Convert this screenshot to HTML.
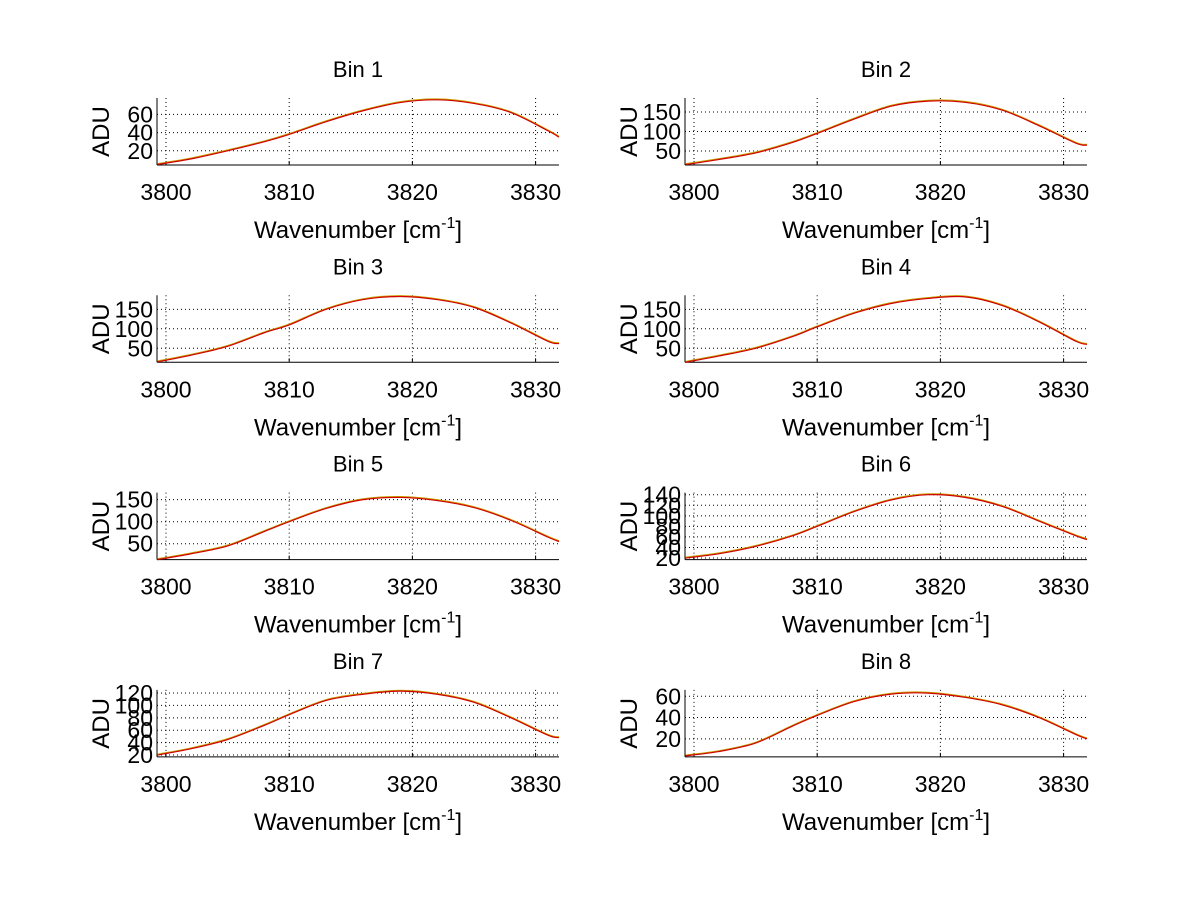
<!DOCTYPE html>
<html><head><meta charset="utf-8"><style>
body{margin:0;background:#fff}
svg{display:block;font-family:"Liberation Sans",sans-serif}
</style></head><body>
<svg id="fig" width="1200" height="901"></svg>
<script>
const xs=[3799.3,3802,3805,3808,3810,3813,3816,3819,3822,3825,3828,3831,3831.9];
const binNames=["Bin 1","Bin 2","Bin 3","Bin 4","Bin 5","Bin 6","Bin 7","Bin 8"];
const bin1=[5,11,20,30,38,52,64,73,76,72,62,42,35];
const bin2=[15,28,45,72,95,132,165,178,175,155,115,70,65];
const bin3=[15,32,55,90,110,150,175,183,175,155,115,68,62];
const bin4=[14,30,50,80,105,140,165,178,182,160,118,68,60];
const bin5=[14,27,45,78,100,130,150,155,148,132,103,65,55];
const bin6=[20,28,42,62,80,108,130,140,135,118,90,62,55];
const bin7=[20,30,45,68,85,108,118,123,118,105,80,52,48];
const bin8=[4,8,16,32,42,55,62,63,59,52,40,24,20];
const series=[bin1,bin2,bin3,bin4,bin5,bin6,bin7,bin8];
const ylims=[[4.4,78],[14,186],[14,186],[14,186],[14,166],[17,144],[17,125],[3,66]];
const yticks=[[20,40,60],[50,100,150],[50,100,150],[50,100,150],[50,100,150],[20,40,60,80,100,120,140],[20,40,60,80,100,120],[20,40,60]];
const xticks=[3800,3810,3820,3830];
const xlim=[3799.27,3831.9];
const NS="http://www.w3.org/2000/svg";
const svg=document.getElementById('fig');
function mk(t,a,p){const e=document.createElementNS(NS,t);for(const k in a)e.setAttribute(k,a[k]);(p||svg).appendChild(e);return e;}
for(let i=0;i<8;i++){
  const col=i%2,row=Math.floor(i/2);
  const L=157+col*528,R=559+col*528,T=98+row*197.3,B=165+row*197.3;
  const g=mk('g',{});
  
  
  const X=v=>L+(v-xlim[0])/(xlim[1]-xlim[0])*(R-L);
  const Y=v=>B-(v-ylims[i][0])/(ylims[i][1]-ylims[i][0])*(B-T);
  xticks.forEach(t=>{const l=mk('line',{x1:X(t),x2:X(t),y1:T,y2:B,stroke:'#000','stroke-width':1,'stroke-dasharray':'1,3'},g);
    
    mk('line',{x1:X(t),x2:X(t),y1:B,y2:B-4,stroke:'#000'},g);
    const tx=mk('text',{x:X(t),y:B+35,'font-size':23,'text-anchor':'middle'},g);tx.textContent=t;
    });
  yticks[i].forEach(t=>{const l=mk('line',{x1:L,x2:R,y1:Y(t),y2:Y(t),stroke:'#000','stroke-width':1,'stroke-dasharray':'1,3'},g);
    
    const tx=mk('text',{x:L-4,y:Y(t)+8,'font-size':23,'text-anchor':'end'},g);tx.textContent=t;
    });
  mk('line',{x1:L,x2:R,y1:B,y2:B,stroke:'#000'},g);
  mk('line',{x1:L,x2:L,y1:T,y2:B,stroke:'#000'},g);
  const pts=xs.map((x,k)=>[X(x),Y(series[i][k])]);
  let d='M'+pts[0][0]+','+pts[0][1];
  for(let k=0;k<pts.length-1;k++){const p0=pts[Math.max(0,k-1)],p1=pts[k],p2=pts[k+1],p3=pts[Math.min(pts.length-1,k+2)];
    d+=`C${p1[0]+(p2[0]-p0[0])/6},${p1[1]+(p2[1]-p0[1])/6} ${p2[0]-(p3[0]-p1[0])/6},${p2[1]-(p3[1]-p1[1])/6} ${p2[0]},${p2[1]}`;}
  const pb=mk('path',{d:d,fill:'none',stroke:'#c8a000','stroke-width':1.2,transform:'translate(0,-0.8)'},g);
  
  const p=mk('path',{d:d,fill:'none',stroke:'#d00000','stroke-width':1.2},g);
  
  const ti=mk('text',{x:(L+R)/2,y:T-21,'font-size':22,'text-anchor':'middle'},g);ti.textContent=binNames[i];
  
  const xl=mk('text',{x:(L+R)/2,y:B+73,'font-size':24,'text-anchor':'middle'},g);
  xl.innerHTML='Wavenumber [cm<tspan dy="-10" font-size="16">-1</tspan><tspan dy="10">]</tspan>';
  
  const yl=mk('text',{x:0,y:0,'font-size':24,'text-anchor':'middle',transform:`translate(${L-48},${(T+B)/2}) rotate(-90)`},g);yl.textContent='ADU';
  
}
</script>
</body></html>
